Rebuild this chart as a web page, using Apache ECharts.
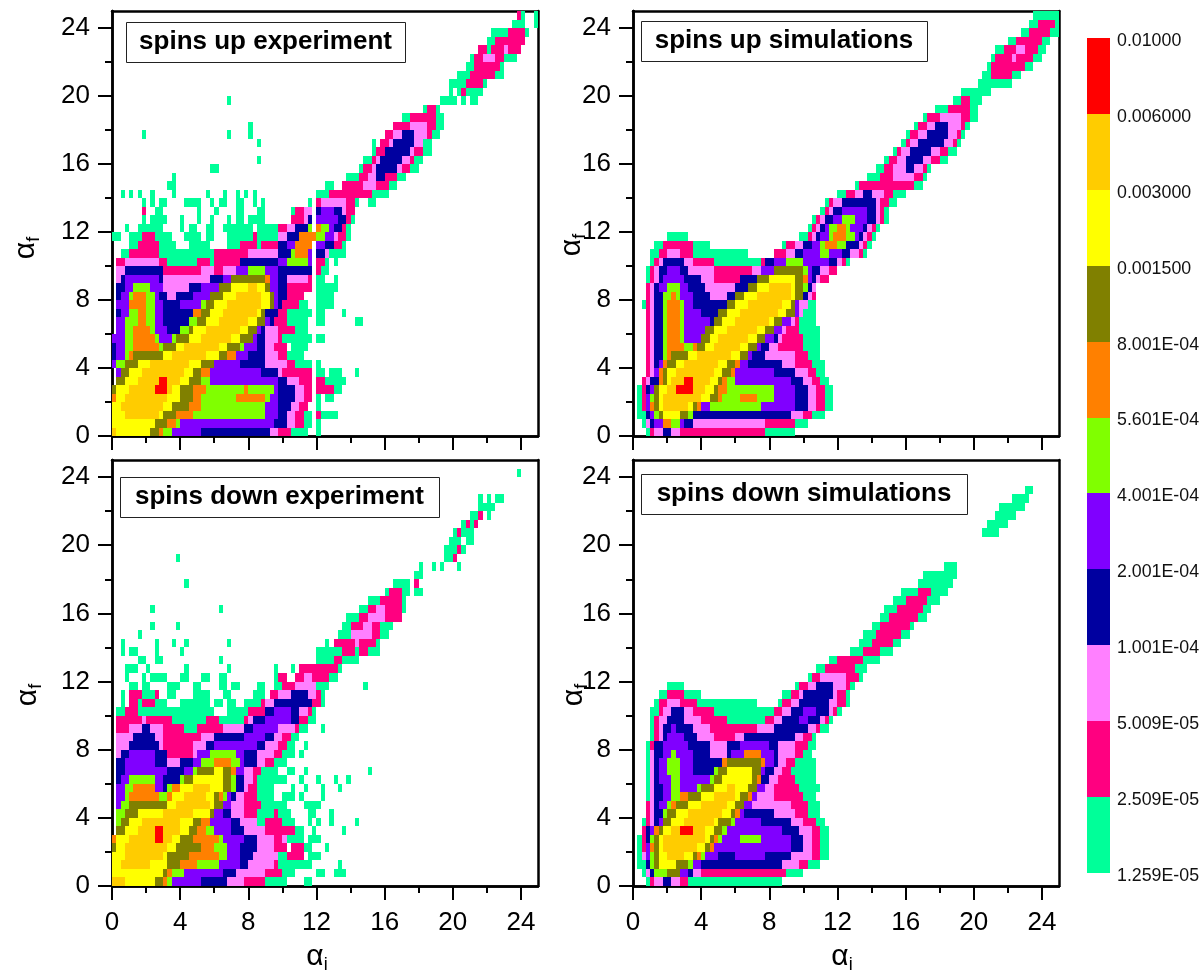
<!DOCTYPE html>
<html><head><meta charset="utf-8">
<style>html,body{margin:0;padding:0;background:#fff}#c{width:1202px;height:971px}</style>
<script src="https://cdn.jsdelivr.net/npm/echarts@6/dist/echarts.min.js"></script>
</head><body><div id="c"></div>
<script>
// contour level colours, lowest (a) to highest (k)
const levelColors = ['#00FF99','#FF0080','#FF80FF','#0000A0','#8000FF','#80FF00','#FF8000','#808000','#FFFF00','#FFCC00','#FF0000'];
const levelLabels = ['1.259E-05','2.509E-05','5.009E-05','1.001E-04','2.001E-04','4.001E-04','5.601E-04','8.001E-04','0.001500','0.003000','0.006000','0.01000'];
const majorTicks = [0,4,8,12,16,20,24];
const minorTicks = [2,6,10,14,18,22];
const panelTitles = ['spins up experiment','spins up simulations','spins down experiment','spins down simulations'];
// Each row is 0.5 deg of alpha_f, from 0 upward. "12c" = from column 12 (alpha_i = 12*0.25) the level is c; "." = empty.
const upExperimentRows = [
"0j 1i 9h 11g 12f 14e 21d 37c 39b 42a 46. 48a 49.",
"0i 10h 13g 15f 16e 38d 41c 43b 45a 47. 48a 49.",
"0i 3j 11i 12h 15g 19f 36e 39d 41c 43b 45a 47. 48b 49a 53.",
"0i 2j 12i 14h 18g 21f 36e 39d 42c 44b 46. 48a 49.",
"0g 1i 3j 13i 16h 19g 21f 29g 36f 37e 39d 43c 45b 47. 48a 49. 50a 52.",
"0h 1i 4j 10k 13j 14i 16h 19g 22f 31g 32f 38e 39d 43c 45b 47. 48b 52a 54.",
"1h 3i 6j 11k 13j 16i 18h 21f 23e 39d 41c 44b 47. 48b 50a 55.",
"1e 2h 4i 7j 17i 19h 21g 23e 35d 39c 40b 47. 48a 50. 51a 54. 57a 58.",
"0e 1f 3h 6i 9j 18i 21h 24e 30d 36c 41b 43a 47. 48a 49.",
"0d 1e 3f 4g 5h 12i 14j 22i 25h 27g 29e 32d 36c 39b 41a 45.",
"0d 1e 3f 5g 11f 12h 15i 17j 25i 27h 30f 31e 34d 36c 38b 41. 42a 46.",
"0e 3f 5g 10f 11e 14f 15h 18i 21j 28i 30h 33e 34d 36c 39b 40a 47. 48a 50.",
"1e 3f 5g 9f 10e 13d 16f 18h 19i 22j 30i 32h 34e 35d 36c 39b 43a 46.",
"1e 3f 6g 8f 10e 12d 18f 20h 22i 25j 32i 34h 36e 37d 38b 41a 46. 48a 50. 57a 59.",
"1d 2e 4f 6g 8f 10e 12d 19g 21h 23i 26j 34i 35h 36d 39b 41a 47. 48a 50. 54a 55.",
"1e 4g 8f 10e 12d 16e 21f 22h 24i 27j 35i 37h 38e 39d 40b 44a 46. 48a 52.",
"1d 2e 4f 5g 8f 10e 11d 13c 15d 19e 23h 26i 29j 35i 37h 38e 39d 41b 45. 48a 52.",
"1d 3e 5f 9e 12c 18d 21e 25h 28i 32j 34i 36h 37e 39d 41b 47. 48a 53.",
"1c 2d 3e 11d 12c 23d 26e 28h 36g 37e 39d 41c 46b 47. 48a 50. 52a 53.",
"1c 3d 12b 21c 24b 26c 29e 32f 36e 39d 47. 48b 49a 51.",
"1b 3c 11b 13a 20b 23a 24b 30d 39e 41f 46e 47. 48b 50a 51. 52a 53.",
"2a 4b 11a 24b 32c 39d 42f 43g 46e 47. 48d 50c 51a 55.",
"4a 6b 11a 15. 18a 23. 27a 30b 34a 35b 39d 41e 43g 47. 48e 50d 52b 54a 55.",
"0a 2. 4a 7b 10a 14. 17a 21. 22a 24. 27a 33b 34a 39c 41d 44g 48f 50e 52c 53b 55a 56.",
"3a 4. 6a 12. 16a 17. 18a 20. 22a 24. 26a 33. 34a 39b 41c 43d 46f 47. 48g 49f 51e 52d 54b 55a 56.",
"7a 8. 9a 13. 16a 17. 20a 21. 23a 24. 27a 28. 29a 31. 32a 36. 42b 45c 46d 47. 48e 53d 55b 56a 57.",
"7b 8. 10a 12. 20a 21. 24a 25. 29a 31. 34a 36. 42a 43b 45c 47. 48d 49e 52d 54c 55b 57.",
"7a 8. 9a 10. 11a 13. 17a 21. 23a 24. 25a 27. 29a 31. 33a 34. 35a 36. 46a 47. 48b 49c 55b 57a 58. 60a 62.",
"2a 3. 4a 5. 6a 7. 9a 10. 14a 15. 22a 23. 26a 27. 29a 30. 31a 32. 33a 34. 48a 51b 61a 65.",
"13a 15. 50a 52. 54b 59c 62b 65a 67.",
"14a 15. 55a 58b 60c 62d 64b 67a 69.",
"23a 25. 58a 59b 61c 62d 67c 68b 70a 72.",
"34a 35. 59a 61b 62c 63d 68c 70b 71a 73.",
"61a 62b 64d 70c 71b 73a 75.",
"34a 35. 61a 62. 63b 65c 66d 71c 73a 75.",
"7a 8. 27a 28. 32a 33. 64b 66c 68d 71c 74b 75a 77.",
"32a 33. 66b 70c 74b 76a 78.",
"68a 70b 76a 78.",
"73a 74b 76a 77.",
"27a 28. 77a 81. 82a 83. 84a 86.",
"79a 80. 81a 82b 83a 87.",
"79a 83b 87a 88.",
"81a 84b 90a 92.",
"83a 85b 91a 92.",
"84a 85b 87c 90b 92a 95.",
"86b 88a 89b 92c 93b 96.",
"88a 90b 97.",
"89a 93b 97a 98.",
"94a 97. 99a 100.",
"95b 96a 97. 99a 100."
];
const upSimulationRows = [
"3a 4b 5c 7d 9c 11b 31a 38.",
"2a 3c 4d 5e 7g 9f 11e 12d 14c 31b 38a 41.",
"1a 3d 4e 5f 6h 7i 11h 13f 14d 37c 40b 42a 45.",
"1a 2b 3e 4g 5h 6i 7j 13i 14h 15g 16e 18f 30e 38d 41c 43b 45a 47.",
"1a 2b 3e 4f 5h 6i 7j 16i 18h 20g 21f 25g 29f 33e 38d 41c 43b 45a 47.",
"1a 2b 3d 4e 5h 6i 8j 10k 14j 17i 19h 20g 22f 33e 38d 41c 43b 45a 47.",
"2b 3c 4d 6g 7h 8i 9j 12k 14j 18i 20h 21g 22f 24e 37d 40c 42b 44a 46.",
"3b 4c 5e 6g 7h 8i 10j 19i 21h 23g 24e 33d 38c 41b 43a 45.",
"3b 4c 5d 6e 7g 8h 10i 12j 20i 22h 24g 25e 27d 35c 38b 42a 45.",
"3b 4c 5d 7f 8g 9h 13i 15j 23i 25h 27e 28d 31c 38b 41a 44.",
"3b 4c 5d 7f 8g 12f 14g 15h 17i 19j 25i 27h 29e 30d 32c 34b 40a 44.",
"3b 4c 5d 7f 8g 11f 12e 16h 18i 20j 27i 29h 31e 33d 34c 35b 40a 44.",
"3b 4c 5d 7f 8g 11f 12e 17h 19i 22j 29i 31h 33e 35c 36b 39a 44.",
"3b 4c 5d 7f 8g 11f 12e 18d 19h 21i 24j 32i 33h 35e 37c 38b 39a 43.",
"3b 4c 5d 7f 8g 11f 12e 16d 20h 22i 25j 34i 36h 38e 39c 40a 43.",
"2a 3b 4c 5d 7f 8g 11f 12e 14d 22h 24i 27j 35i 37h 38e 39c 41a 43.",
"3b 4c 5d 7f 9g 10f 11e 14d 18c 22d 24h 26i 29j 37i 38h 40d 41c 42b 43.",
"3b 4c 5d 6e 8f 11e 13d 17c 24d 27h 29i 32j 37i 38h 40f 41d 42c 43.",
"3a 4b 5c 6d 7e 12d 16c 19b 25d 29h 32i 38h 40g 41e 42d 43c 44b 46.",
"3a 4b 5c 6d 8e 11d 13c 19b 28c 30e 33h 40f 41e 42d 44c 46b 48.",
"4a 5b 6c 7d 12c 14b 19a 30b 31d 33e 36f 40e 46d 48c 49b 50a 51.",
"4a 6b 8c 11b 14a 27. 33b 36c 38d 40e 44f 46e 49d 51c 53b 54a 55.",
"5a 7b 14a 18. 35a 36b 38c 40d 42e 44f 45g 48f 50d 53c 54b 55a 56.",
"8a 13. 39a 41b 42c 43d 44e 46f 47g 50f 52e 53d 54c 55b 56a 57.",
"41a 42b 43c 44d 45e 46f 48g 50f 51e 54d 55c 56b 57a 58.",
"42a 43b 44c 45d 47e 49f 52e 55d 57c 58b 59a 60.",
"44a 45b 46c 47d 49e 55d 57c 58b 59a 60.",
"45a 46b 47c 49d 57c 58b 60a 62.",
"48a 50b 52c 54d 56c 59b 61a 64.",
"52a 53b 66a 68.",
"55a 58b 61c 66b 68a 69.",
"57a 59b 61c 64d 66c 68b 69a 70.",
"59a 60b 62c 64d 68c 70b 72a 74.",
"61a 62b 63c 65d 70c 72b 74a 76.",
"63a 64b 65c 67d 73c 75b 76a 77.",
"64a 65b 67c 69d 74c 76b 77a 78.",
"66a 67b 69c 71d 74c 77b 78a 79.",
"68a 69b 72c 77b 79a 81.",
"71a 74b 79a 81.",
"75a 77b 79a 82.",
"77a 84.",
"81a 89.",
"82a 84b 89a 91.",
"83a 84b 92a 94.",
"84a 85b 89c 90b 94a 96.",
"85a 87b 90c 92b 95a 97.",
"88a 90b 96a 98.",
"91a 93b 98a 100.",
"93a 95b 99a 100.",
"94a 100."
];
const downExperimentRows = [
"0j 3i 10h 12g 13f 14e 21d 27c 31b 36a 41. 45a 47.",
"0i 12h 13g 14f 17e 26d 29c 36b 40a 43. 48a 50. 52a 55.",
"0i 2j 9i 13h 16g 20f 25e 30d 32c 38b 39a 47. 53a 54.",
"0i 3j 12i 13h 18g 25f 27e 30d 33c 39a 41b 45. 46a 49.",
"0h 1i 3j 13i 15h 21g 24f 27e 30d 34c 38b 41. 42b 45a 47. 50a 51.",
"0g 1i 4j 10k 12j 14i 16h 19g 25f 26e 31d 34c 38b 40c 41a 45. 46a 49.",
"1h 3i 6j 10k 12j 16i 18h 20g 22f 24e 28d 31c 36b 43a 45. 47a 48. 54a 55.",
"1f 2h 4i 7j 16i 19h 21g 23e 28d 30c 34a 36b 40a 43. 46a 47. 48a 49. 51a 52. 57a 58.",
"1f 3h 6i 12j 19i 23h 24e 26d 28c 31b 34a 38b 39a 42. 46a 48. 51a 52.",
"1e 2f 4h 13i 15j 23i 24h 26e 28c 31b 35a 41. 45a 49.",
"1e 3f 4g 11f 13g 14i 17j 22i 24h 25g 26f 27e 28d 29c 31b 34a 38. 40a 43. 44a 45. 49a 50.",
"1e 3f 5g 10e 12d 13f 14g 16i 19j 23i 26h 28f 29d 31c 32b 34a 38. 42a 43. 45a 46. 49a 50. 53a 54.",
"1d 2e 4f 10e 12d 16f 17h 19i 26h 28f 29d 31c 33b 34a 41. 44a 45. 48a 49. 52a 53. 55a 56.",
"1d 3e 13d 17e 19f 20h 24i 26h 28g 29e 31c 33b 35a 39. 41a 43. 45a 46. 60a 61.",
"1d 3e 10d 13c 16d 19e 21f 24g 28f 30e 31d 34c 36b 38a 41.",
"1c 2d 4e 10d 13b 19c 20e 23f 29e 31d 34c 38b 40a 43. 44a 45.",
"1c 4d 11c 12b 19c 22d 24e 34d 36c 39b 41a 43. 45a 46.",
"1c 5d 10c 12b 21c 24d 31e 36d 38c 40b 42a 44.",
"1b 4c 7d 9c 12b 17a 20b 26c 31d 33e 39c 43b 44a 46. 49a 50.",
"1b 7c 8b 14a 22b 25a 31b 32c 33d 36e 42d 44b 46a 48.",
"1a 3b 6a 24. 27a 32b 36d 38e 42d 44c 46b 47a 48.",
"2a 3. 4b 6a 7b 10a 13. 16a 23. 24a 26. 27a 29. 31a 35b 36c 38d 47b 49a 50.",
"2a 3. 4b 7a 10b 11. 13a 15. 19a 23. 26a 28. 33a 36. 37b 39c 42d 46c 48b 49a 50.",
"4a 6. 7a 9. 13a 16. 19a 21. 25a 27. 28a 30. 34a 36. 38a 40b 43c 48a 51. 59a 60.",
"3a 4. 7a 8. 9a 13. 16a 18. 21a 23. 25a 27. 38a 39b 41. 43b 45c 47b 51a 53.",
"3a 6. 8a 9. 17a 18. 27a 28. 38a 39. 42a 43. 44b 53a 54.",
"6a 8. 10a 12. 25a 26. 48a 52b 54a 58.",
"2a 3. 4a 6. 10a 11. 16a 17. 48a 54b 57a 58b 60a 63.",
"2a 3. 10a 11. 14a 15. 17a 18. 27a 28. 50a 51. 52b 57c 58b 62a 63.",
"6a 7. 53a 56c 61b 63a 65.",
"9a 10. 15a 16. 54a 56b 59c 61b 63a 66.",
"55a 58b 60c 64b 68.",
"9a 10. 25a 26. 58a 60b 62c 64b 68a 69.",
"60a 63b 68a 69.",
"64a 65b 68a 70. 71a 73.",
"17a 18. 66a 70. 71b 72.",
"71a 73.",
"72a 73. 75a 76. 77a 78. 81a 82.",
"15a 16. 78a 80b 81.",
"78a 81b 82a 83.",
"79a 82. 83a 85.",
"80a 81b 82a 85.",
"82a 83b 84a 85b 86.",
"84a 86b 87. 88a 89.",
"86a 90.",
"86a 87. 88a 89. 90a 92.",
"",
"",
"95a 96.",
""
];
const downSimulationRows = [
"3a 4b 5c 7d 9c 11b 13a 35.",
"2a 3c 4d 5f 8h 11e 13d 14c 16b 36a 40.",
"1a 3d 4f 5h 6i 10h 13f 14e 16d 35c 39b 41a 44.",
"1a 2c 3e 4f 5h 6i 8j 12i 14h 15g 16f 17e 20d 24e 31d 37c 42b 44a 46.",
"1a 2b 3e 4g 5h 6i 7j 15i 17h 18g 19e 37d 40c 42b 44a 46.",
"1a 2b 3d 4f 5h 6i 7j 17i 18h 19g 20f 21e 25f 30e 37d 40c 42b 44a 46.",
"2b 3d 4e 5g 6h 7i 9j 11k 14j 17i 19h 21f 22e 35d 39c 42b 44a 46.",
"2a 3b 4c 5d 6e 7h 9i 12j 19i 20h 23f 24e 30d 37c 40b 43a 45.",
"3b 4c 5d 7f 8h 10i 13j 21i 23h 24g 25e 26d 33c 38b 41a 44.",
"3b 4c 5d 6e 8f 9g 10h 13i 16j 22i 24h 26e 28c 37b 41a 44.",
"3a 4c 5d 7e 9f 11g 13h 16i 19j 24i 25h 27g 28e 29c 33b 40a 43.",
"3a 4c 5d 7e 9f 11e 15f 16h 19i 22j 24i 27h 29e 31c 33b 39a 44.",
"3a 4c 5d 6e 9f 11e 18f 19h 21i 28h 29g 30d 32c 34b 38a 43.",
"3a 4c 5d 6e 8f 11e 14d 19f 20h 22i 28h 30e 31d 33c 35b 37a 43.",
"3a 4c 5d 6e 8f 11e 14d 21g 22h 30g 31e 33d 34c 36b 38a 43.",
"3a 4c 5d 7e 9f 10e 14d 18c 22d 23e 26g 30e 33d 34c 38b 40a 42.",
"3a 4b 5d 7e 13d 18c 22d 25e 32d 34c 38b 41a 43.",
"4a 5b 6c 7d 8e 12d 15c 19b 24c 26d 38c 40b 42a 43.",
"4a 5b 6c 7d 9e 10d 14c 18b 29c 33d 41c 43b 44a 46.",
"4a 5b 6c 8d 12c 16b 22a 31b 33c 35d 39e 41d 44c 45b 46a 47.",
"4a 6b 7c 9d 12c 14b 19a 33b 35c 37d 40e 43d 46c 47b 48a 49.",
"5a 6b 8c 11b 15a 29. 34a 35b 37c 39d 46c 48b 50a 51.",
"6a 8b 12a 16. 35a 37b 39c 40d 47c 48b 50a 51.",
"8a 12. 38a 39b 41c 43d 47c 50b 51a 52.",
"41a 42b 44c 50b 53a 54.",
"43a 45b 52a 55.",
"46a 48b 54a 58.",
"51a 54b 58a 61.",
"53a 56b 61a 63.",
"54a 57b 63a 65.",
"56a 58b 65a 66.",
"58a 60b 67a 69.",
"59a 62b 68a 70.",
"61a 64b 69a 72.",
"63a 67b 70a 74.",
"67a 75.",
"68a 76.",
"73a 76.",
"",
"",
"",
"82a 86.",
"83a 88.",
"85a 90.",
"86a 92.",
"89a 93.",
"92a 94.",
"",
"",
""
];

const panels = [
  {rows: upExperimentRows,   left:112, top:11,  w:426, h:425, box:[126,22,279,40],  labels:false, fName:[26,248]},
  {rows: upSimulationRows,   left:633, top:11,  w:426, h:425, box:[641,21,286,40],  labels:false, fName:[572,245]},
  {rows: downExperimentRows, left:112, top:460, w:426, h:426, box:[120,477,319,40], labels:true,  fName:[28,695], iName:[317,957]},
  {rows: downSimulationRows, left:633, top:460, w:426, h:426, box:[641,474,326,40], labels:true,  fName:[574,695], iName:[842,957]}
];

function cellsFromRows(rows){
  const out=[];
  rows.forEach((row,r)=>{
    const toks=row.split(' ').filter(Boolean);
    toks.forEach((t,i)=>{
      const ch=t.slice(-1); if(ch==='.')return;
      const c=parseInt(t,10);
      const end=i+1<toks.length?parseInt(toks[i+1],10):100;
      out.push([c*0.25,r*0.5,end*0.25,r*0.5+0.5,ch.charCodeAt(0)-97]);
    });
  });
  return out;
}
function renderCell(params,api){
  const a=api.coord([api.value(0),api.value(1)]);
  const b=api.coord([api.value(2),api.value(3)]);
  const x=Math.round(a[0]),x2=Math.round(b[0]),y=Math.round(b[1]),y2=Math.round(a[1]);
  return {type:'rect',shape:{x:x,y:y,width:x2-x,height:y2-y},style:{fill:levelColors[api.value(4)]}};
}
const line={lineStyle:{color:'#000',width:2.5}};
const font='"Liberation Sans",Arial,sans-serif';
const nameRich={a:{fontSize:30,fontFamily:font,fill:'#000',color:'#000'},b:{fontSize:18,fontFamily:font,fill:'#000',color:'#000',padding:[16,0,0,0]}};
const grids=[],xAxes=[],yAxes=[],series=[],graphics=[];
panels.forEach((p,i)=>{
  grids.push({left:p.left,top:p.top,width:p.w,height:p.h,outerBoundsMode:'none'});
  const base={type:'value',min:0,max:25,gridIndex:i,splitLine:{show:false},axisLine:Object.assign({show:true,onZero:false},line)};
  const off={axisLabel:{show:false},axisTick:{show:false}};
  xAxes.push(Object.assign({},base,{position:'bottom',
    axisTick:{length:14,lineStyle:{width:2,color:'#000'},customValues:majorTicks},
    axisLabel:{show:p.labels,fontSize:26,fontFamily:font,color:'#000',margin:24,customValues:majorTicks}}));
  xAxes.push(Object.assign({},base,{position:'bottom',axisLabel:{show:false},
    axisTick:{length:7,lineStyle:{width:2,color:'#000'},customValues:minorTicks}}));
  xAxes.push(Object.assign({},base,off,{position:'top'}));
  yAxes.push(Object.assign({},base,{position:'left',
    axisTick:{length:14,lineStyle:{width:2,color:'#000'},customValues:majorTicks},
    axisLabel:{fontSize:26,fontFamily:font,color:'#000',margin:22,customValues:majorTicks}}));
  yAxes.push(Object.assign({},base,{position:'left',axisLabel:{show:false},
    axisTick:{length:7,lineStyle:{width:2,color:'#000'},customValues:minorTicks}}));
  yAxes.push(Object.assign({},base,off,{position:'right'}));
  series.push({type:'custom',xAxisIndex:i*3,yAxisIndex:i*3,renderItem:renderCell,silent:true,animation:false,clip:true,
    encode:{x:[0,2],y:[1,3]},data:cellsFromRows(p.rows),z:1});
  graphics.push({type:'group',z:100,children:[
    {type:'rect',shape:{x:p.box[0]+.5,y:p.box[1]+.5,width:p.box[2],height:p.box[3]},style:{fill:'#fff',stroke:'#222',lineWidth:1}},
    {type:'text',x:p.box[0]+p.box[2]/2,y:p.box[1]+p.box[3]/2,style:{text:panelTitles[i],fontSize:26,fontWeight:'bold',fontFamily:font,fill:'#000',align:'center',verticalAlign:'middle'}}
  ]});
  graphics.push({type:'text',z:100,x:p.fName[0],y:p.fName[1],rotation:Math.PI/2,style:{text:'{a|α}{b|f}',rich:nameRich,align:'center',verticalAlign:'middle'}});
  if(p.iName) graphics.push({type:'text',z:100,x:p.iName[0],y:p.iName[1],style:{text:'{a|α}{b|i}',rich:nameRich,align:'center',verticalAlign:'middle'}});
});
// colour scale: bars in one grid, its labels on an axis in a grid set 2px lower
const legendData=levelColors.map((c,i)=>[0,i,1,i+1,i]);
grids.push({left:1087,top:38,width:23,height:835,outerBoundsMode:'none'});
xAxes.push({type:'value',gridIndex:4,min:0,max:1,show:false});
yAxes.push({type:'value',gridIndex:4,min:0,max:11,show:false});
grids.push({left:1087,top:41,width:23,height:835,outerBoundsMode:'none'});
xAxes.push({type:'value',gridIndex:5,min:0,max:1,show:false});
yAxes.push({type:'value',gridIndex:5,min:0,max:11,interval:1,position:'right',splitLine:{show:false},axisLine:{show:false},axisTick:{show:false},
  axisLabel:{fontSize:17.8,fontFamily:font,color:'#111',margin:7,formatter:v=>levelLabels[v]}});
series.push({type:'custom',xAxisIndex:12,yAxisIndex:12,renderItem:renderCell,silent:true,animation:false,encode:{x:[0,2],y:[1,3]},data:legendData});

const chart=echarts.init(document.getElementById('c'),null,{renderer:'canvas'});
chart.setOption({animation:false,backgroundColor:'#fff',grid:grids,xAxis:xAxes,yAxis:yAxes,series:series,graphic:graphics});
</script></body></html>
